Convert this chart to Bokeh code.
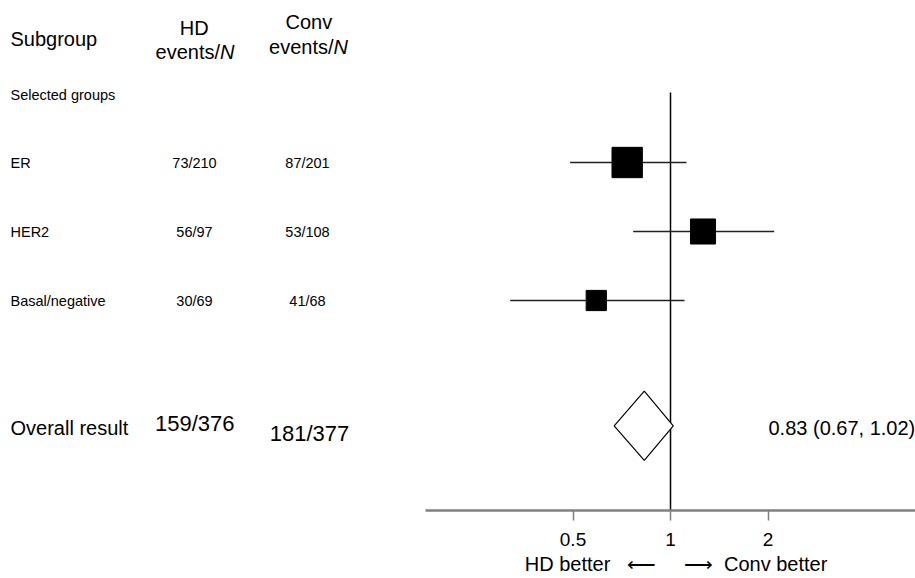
import math
from bokeh.plotting import figure
from bokeh.layouts import row
from bokeh.models import ColumnDataSource, Range1d, FixedTicker
from bokeh.core.properties import value
from bokeh.embed import file_html
from bokeh.resources import INLINE

# ---------------- data ----------------
subgroups = ["ER", "HER2", "Basal/negative"]
hd_events = [73, 56, 30]
hd_n = [210, 97, 69]
conv_events = [87, 53, 41]
conv_n = [201, 108, 68]
hazard = [0.735, 1.26, 0.59]
ci_low = [0.49, 0.767, 0.32]
ci_high = [1.12, 2.09, 1.105]

overall_hd_events, overall_hd_n = 159, 376
overall_conv_events, overall_conv_n = 181, 377
overall_est, overall_low, overall_high = 0.83, 0.67, 1.02

ticks = [0.5, 1, 2]
tick_labels = ["0.5", "1", "2"]
NB = "\u00a0"
direction_label = (NB * 2 + "HD better" + NB * 3 + "\u27f5" + NB * 5 + "\u27f6" + NB * 2
                   + "Conv better")

# ---------------- layout helpers ----------------
FONT = "Liberation Sans"
ROW0, ROWH = 93.0, 69.0          # pixel y of row 0 and row pitch
W, H, AXIS_Y = 915, 578, 510


def ry(py):
    """page pixel y -> row units"""
    return (py - ROW0) / ROWH


def lx(px):
    """page pixel x -> value on the log forest axis"""
    return 2 ** ((px - 670.0) / 97.5)


rows = [1, 2, 3]
overall_row = ry(425.3)

yr = Range1d(start=ry(AXIS_Y), end=ry(0))


def style_axis(ax, visible):
    ink = "black" if visible else None
    grey = "#808080" if visible else None
    ax.axis_line_color = grey
    ax.axis_line_width = 2.5
    ax.major_tick_line_color = grey
    ax.major_tick_line_width = 1.5
    ax.major_tick_in = 0
    ax.major_tick_out = 10
    ax.minor_tick_line_color = None
    ax.major_label_text_font = FONT
    ax.major_label_text_font_size = "19px"
    ax.major_label_text_color = ink
    ax.major_label_standoff = 12
    ax.axis_label = direction_label
    ax.axis_label_text_font = FONT
    ax.axis_label_text_font_size = "20px"
    ax.axis_label_text_font_style = "normal"
    ax.axis_label_text_color = ink
    ax.axis_label_standoff = 4


# ---------------- left table ----------------
left = figure(frame_width=425, height=H, x_range=Range1d(0, 425), y_range=yr,
              output_backend="svg", toolbar_location=None, y_axis_location=None,
              min_border=0, min_border_bottom=H - AXIS_Y, outline_line_color=None)
left.grid.grid_line_color = None
lax = left.xaxis[0]
lax.ticker = FixedTicker(ticks=[200], minor_ticks=[])
lax.major_label_overrides = {200: "0.5"}
style_axis(lax, False)


def ltext(fig, x, y, txt, size, align="left", style="normal"):
    fig.text(x=x, y=y, text=txt, text_font=value(FONT), text_font_size=value(size),
             text_align=align, text_baseline="middle", text_color="black",
             text_font_style=style)


# headers (y = visual centre of capitals)
ltext(left, [10], [ry(38.3)], ["Subgroup"], "20px")
ltext(left, [193.7], [ry(27.8)], ["HD"], "20px", "center")
ltext(left, [219.5], [ry(51)], ["events/"], "20px", "right")
ltext(left, [219.5], [ry(51)], ["N"], "20px", "left", "italic")
ltext(left, [308.3], [ry(21.7)], ["Conv"], "20px", "center")
ltext(left, [333], [ry(46.7)], ["events/"], "20px", "right")
ltext(left, [333], [ry(46.7)], ["N"], "20px", "left", "italic")

ltext(left, [10], [ry(94.2)], ["Selected groups"], "14.5px")

tsrc = ColumnDataSource(dict(
    y=rows,
    name=subgroups,
    hd=[f"{e}/{n}" for e, n in zip(hd_events, hd_n)],
    conv=[f"{e}/{n}" for e, n in zip(conv_events, conv_n)],
    xl=[10] * len(rows), xh=[194] * len(rows), xc=[307] * len(rows),
))
for xcol, tcol, al in [("xl", "name", "left"), ("xh", "hd", "center"), ("xc", "conv", "center")]:
    left.text(x=xcol, y="y", text=tcol, source=tsrc, text_font=value(FONT),
              text_font_size=value("14.5px"), text_align=al,
              text_baseline="middle", text_color="black")

ltext(left, [10], [ry(427.8)], ["Overall result"], "20px")
ltext(left, [194.2], [ry(422.5)], [f"{overall_hd_events}/{overall_hd_n}"], "22px", "center")
ltext(left, [309], [ry(432.8)], [f"{overall_conv_events}/{overall_conv_n}"], "22px", "center")

# ---------------- right forest ----------------
right = figure(frame_width=W - 425, height=H, x_axis_type="log",
               x_range=Range1d(lx(425), lx(W)), y_range=yr,
               output_backend="svg", toolbar_location=None, y_axis_location=None,
               min_border=0, min_border_bottom=H - AXIS_Y, outline_line_color=None)
right.grid.grid_line_color = None

# null line
right.segment(x0=[1], y0=[-0.015], x1=[1], y1=[ry(530)], line_color="black", line_width=1.5)

fsrc = ColumnDataSource(dict(
    y=rows, est=hazard, lo=ci_low, hi=ci_high,
    size=[2.4 * math.sqrt(a + b) for a, b in zip(hd_events, conv_events)],
))
right.segment(x0="lo", y0="y", x1="hi", y1="y", source=fsrc, line_color="#222222", line_width=1.3)
right.scatter(x="est", y="y", size="size", marker="square", source=fsrc,
              fill_color="black", line_color="black")

right.patch(x=[overall_low, overall_est, overall_high, overall_est],
            y=[overall_row, overall_row - 0.502, overall_row, overall_row + 0.502],
            fill_color="white", line_color="black", line_width=1.2)

right.text(x=[lx(768)], y=[ry(427.5)],
           text=[f"{overall_est:.2f} ({overall_low:.2f}, {overall_high:.2f})"],
           text_font=value(FONT), text_font_size=value("20px"), text_align="left",
           text_baseline="middle", text_color="black")

ax = right.xaxis[0]
ax.ticker = FixedTicker(ticks=ticks, minor_ticks=[])
ax.major_label_overrides = {t: l for t, l in zip(ticks, tick_labels)}
style_axis(ax, True)

layout = row(left, right, spacing=0)
open("out.html", "w").write(file_html(layout, INLINE))
